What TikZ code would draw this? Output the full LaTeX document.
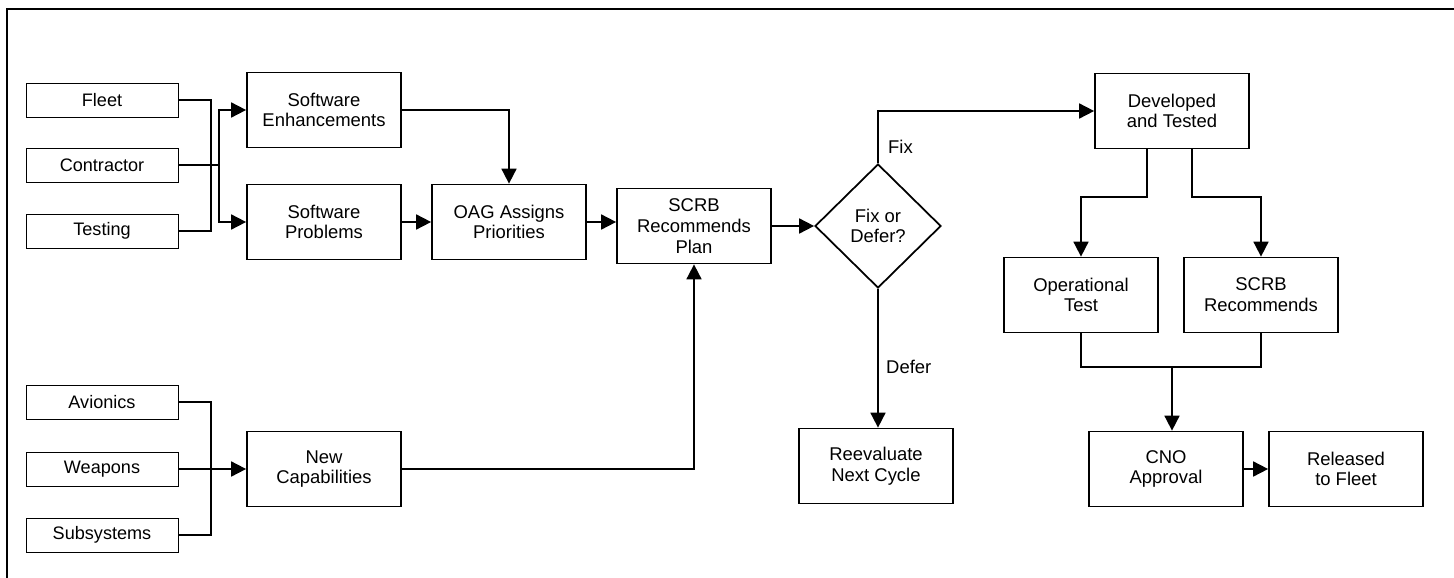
\documentclass[tikz,border=0pt]{standalone}
\usepackage{fontspec}
\setmainfont{Liberation Sans}
\usetikzlibrary{arrows.meta,shapes.geometric}

\begin{document}
\begin{tikzpicture}[x=0.02cm,y=-0.02cm,
  >={Triangle[length=3mm,width=3mm]},
  box/.style={draw,line width=1pt,minimum width=3.08cm,minimum height=1.5cm,align=center,inner sep=1pt,font=\fontsize{10.5}{11.8}\selectfont},
  src/.style={draw,line width=0.5pt,minimum width=3.04cm,minimum height=0.68cm,inner sep=1pt,font=\fontsize{10.3}{11}\selectfont},
  link/.style={line width=1pt},
  lbl/.style={anchor=west,font=\fontsize{10.5}{12}\selectfont}]
\useasboundingbox (0,0) rectangle (1454,578);
\draw[line width=1.5pt] (7,578) -- (7,9) -- (1454,9);

\node[src] (fleet) at (102,100) {Fleet};
\node[src] (contr) at (102,165) {Contractor};
\node[src] (test) at (102,231) {Testing};
\node[src] (avio) at (102,402) {Avionics};
\node[src] (weap) at (102,469) {Weapons};
\node[src] (subs) at (102,535) {Subsystems};

\node[box] (enh) at (324,110) {Software\\Enhancements};
\node[box] (prob) at (324,222) {Software\\Problems};
\node[box] (newcap) at (324,469) {New\\Capabilities};
\node[box] (oag) at (509,222) {OAG Assigns\\Priorities};
\node[box] (plan) at (694,226) {SCRB\\Recommends\\Plan};
\node[draw,diamond,line width=1pt,minimum width=2.52cm,minimum height=2.48cm,inner sep=0pt,align=center,font=\fontsize{10.5}{11.8}\selectfont] (dec) at (878,226) {Fix or\\Defer?};
\node[box] (reeval) at (876,466) {Reevaluate\\Next Cycle};
\node[box] (dev) at (1172,111) {Developed\\and Tested};
\node[box] (optest) at (1081,295) {Operational\\Test};
\node[box] (screc) at (1261,295) {SCRB\\Recommends};
\node[box] (cno) at (1166,469) {CNO\\Approval};
\node[box] (rel) at (1346,469) {Released\\to Fleet};

\coordinate (j1) at (211,0);
\coordinate (j2) at (219,0);
\coordinate (merge) at (1172,367);

\draw[link] (fleet.east) -- (fleet.east -| j1) -- (test.east -| j1) -- (test.east);
\draw[link] (contr.east) -- (contr.east -| j2);
\draw[link,<->] (enh.west) -- (enh.west -| j2) -- (prob.west -| j2) -- (prob.west);
\draw[link] (avio.east) -- (avio.east -| j1) -- (subs.east -| j1) -- (subs.east);
\draw[link,->] (weap.east) -- (newcap.west);

\draw[link,->] (enh.east) -| (oag.north);
\draw[link,->] (prob.east) -- (oag.west);
\draw[link,->] (oag.east) -- (oag.east -| plan.west);
\draw[link,->] (plan.east) -- (dec.west);
\draw[link,->] (newcap.east) -| (plan.south);

\draw[link,->] (dec.north) |- (dev.west);
\draw[link,->] (dec.south) -- (dec.south |- reeval.north);
\node[lbl] at (882,147) {Fix};
\node[lbl] at (880,367) {Defer};

\draw[link,->] ([xshift=-0.5cm]dev.south) -- ++(0,48) -| (optest.north);
\draw[link,->] ([xshift=0.4cm]dev.south) -- ++(0,48) -| (screc.north);
\draw[link] (optest.south) |- (merge) -| (screc.south);
\draw[link,->] (merge) -- (merge |- cno.north);
\draw[link,->] (cno.east) -- (rel.west);
\end{tikzpicture}
\end{document}
